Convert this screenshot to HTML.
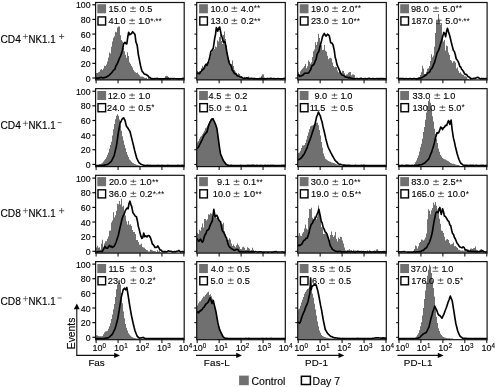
<!DOCTYPE html>
<html><head><meta charset="utf-8"><title>Figure</title>
<style>html,body{margin:0;padding:0;background:#fff}body{width:495px;height:387px;position:relative;overflow:hidden;font-family:"Liberation Sans",sans-serif}</style></head>
<body>
<svg width="495" height="387" viewBox="0 0 495 387" style="position:absolute;left:0;top:0;will-change:transform" font-family="Liberation Sans, sans-serif" fill="#000"><style>text{stroke:#000;stroke-width:0.13px;paint-order:stroke}</style>
<rect width="495" height="387" fill="#fff"/>
<defs>
<clipPath id="c00"><rect x="95.6" y="2.5" width="88.6" height="78"/></clipPath>
<clipPath id="c01"><rect x="196.7" y="2.5" width="88.6" height="78"/></clipPath>
<clipPath id="c02"><rect x="297.7" y="2.5" width="88.6" height="78"/></clipPath>
<clipPath id="c03"><rect x="398.5" y="2.5" width="88.6" height="78"/></clipPath>
<clipPath id="c10"><rect x="95.6" y="88.65" width="88.6" height="78.55"/></clipPath>
<clipPath id="c11"><rect x="196.7" y="88.65" width="88.6" height="78.55"/></clipPath>
<clipPath id="c12"><rect x="297.7" y="88.65" width="88.6" height="78.55"/></clipPath>
<clipPath id="c13"><rect x="398.5" y="88.65" width="88.6" height="78.55"/></clipPath>
<clipPath id="c20"><rect x="95.6" y="175.3" width="88.6" height="78.4"/></clipPath>
<clipPath id="c21"><rect x="196.7" y="175.3" width="88.6" height="78.4"/></clipPath>
<clipPath id="c22"><rect x="297.7" y="175.3" width="88.6" height="78.4"/></clipPath>
<clipPath id="c23"><rect x="398.5" y="175.3" width="88.6" height="78.4"/></clipPath>
<clipPath id="c30"><rect x="95.6" y="261.6" width="88.6" height="78.7"/></clipPath>
<clipPath id="c31"><rect x="196.7" y="261.6" width="88.6" height="78.7"/></clipPath>
<clipPath id="c32"><rect x="297.7" y="261.6" width="88.6" height="78.7"/></clipPath>
<clipPath id="c33"><rect x="398.5" y="261.6" width="88.6" height="78.7"/></clipPath>
</defs>
<path d="M95 79.9 V73.36 H96 V72.92 H97 V72.88 H98 V72.24 H99 V71.71 H100 V69.86 H101 V68.92 H102 V69.89 H103 V68.62 H104 V65.85 H105 V66.03 H106 V64.6 H107 V61.51 H108 V57.44 H109 V52.57 H110 V53.5 H111 V46.7 H112 V41.39 H113 V37.75 H114 V36.28 H115 V31.81 H116 V32.3 H117 V27.41 H118 V26.52 H119 V26.47 H120 V35.22 H121 V40.03 H122 V41.38 H123 V47.92 H124 V51.31 H125 V54.83 H126 V57.65 H127 V52.24 H128 V55.98 H129 V62.21 H130 V63.67 H131 V65.65 H132 V67.57 H133 V70.04 H134 V71.52 H135 V72.15 H136 V73.01 H137 V72.55 H138 V74.17 H139 V75.34 H140 V76.51 H141 V76.52 H142 V76.4 H143 V76.9 H144 V77.85 H145 V78.1 H146 V77.84 H147 V78.96 H148 V78.01 H149 V78.2 H150 V78.14 H151 V79 H152 V77.66 H153 V78.67 H154 V78.84 H155 V78.39 H156 V78.84 H157 V78.35 H158 V78.77 H159 V78.74 H160 V78.84 H161 V79.27 H162 V79.27 H163 V78.37 H164 V77.98 H165 V76.26 H166 V75.68 H167 V76.11 H168 V77 H169 V79.08 H170 V78.64 H171 V79.9Z" fill="#707070" clip-path="url(#c00)"/>
<path d="M95 78.12 L96.01 77.84 L97.02 78.28 L98.03 77.96 L99.04 78.09 L100.05 77.57 L101.06 77.37 L102.07 77.82 L103.08 77.89 L104.09 77.67 L105 77.4 L105.91 77.19 L106.82 76.89 L107.73 76.13 L108.64 75.76 L109.55 74.88 L110.45 73.78 L111.36 73.07 L112.27 72.01 L113.18 70.58 L114.09 69.93 L115 69.08 L115.91 65.86 L116.82 64.69 L117.73 62.64 L118.64 60.38 L119.55 57.86 L120.45 56.52 L121.36 53.74 L122.27 50.9 L123.73 43.65 L125 42.27 L125.91 43.61 L126.82 43.87 L127.73 37.26 L128.64 32.36 L129.55 34.65 L130.45 34.18 L131.55 33.48 L132.64 31.73 L133.82 32.96 L135 34.49 L135.91 41.8 L137.18 45.39 L138.36 54.62 L139.55 60.54 L140.45 65.26 L141.36 69.1 L142.27 71.72 L143.18 72.46 L144.09 73.93 L145 74.34 L145.91 74.38 L146.82 75.08 L147.73 75.58 L148.64 76.84 L149.55 77.51 L150.45 77.67 L151.36 78.85 L152.35 78.85 L153.34 78.85 L154.33 78.66 L155.32 78.82 L156.31 78.48 L157.3 78.38 L158.29 78.85 L159.28 78.85 L160.27 78.8 L161.26 78.85 L162.25 78.73 L163.24 78.85 L164.22 78.85 L165.21 78.54 L166.2 78.58 L167.19 78.61 L168.18 78.57 L169.17 78.85 L170.16 78.58 L171.15 78.71 L172.14 78.48 L173.13 78.85 L174.12 78.66 L175.11 78.75 L176.1 78.85 L177.09 78.85 L178.07 78.72 L179.06 78.85 L180.05 78.78 L181.04 78.81 L182.03 78.8 L183.02 78.38 L184.01 78.73 L185 78.52" fill="none" stroke="#000" stroke-width="1.65" stroke-linejoin="round" clip-path="url(#c00)"/>
<rect x="95.6" y="2.5" width="88.6" height="77.4" fill="none" stroke="#111" stroke-width="1.2"/>
<line x1="92.4" y1="78" x2="95.6" y2="78" stroke="#000" stroke-width="1.15"/>
<text x="90.6" y="81.6" font-size="8.8" text-anchor="end">0</text>
<line x1="92.4" y1="63.36" x2="95.6" y2="63.36" stroke="#000" stroke-width="1.15"/>
<text x="90.6" y="66.96" font-size="8.8" text-anchor="end">20</text>
<line x1="92.4" y1="48.72" x2="95.6" y2="48.72" stroke="#000" stroke-width="1.15"/>
<text x="90.6" y="52.32" font-size="8.8" text-anchor="end">40</text>
<line x1="92.4" y1="34.08" x2="95.6" y2="34.08" stroke="#000" stroke-width="1.15"/>
<text x="90.6" y="37.68" font-size="8.8" text-anchor="end">60</text>
<line x1="92.4" y1="19.44" x2="95.6" y2="19.44" stroke="#000" stroke-width="1.15"/>
<text x="90.6" y="23.04" font-size="8.8" text-anchor="end">80</text>
<line x1="92.4" y1="4.8" x2="95.6" y2="4.8" stroke="#000" stroke-width="1.15"/>
<text x="90.6" y="8.4" font-size="8.8" text-anchor="end">100</text>
<line x1="96.1" y1="79.9" x2="96.1" y2="83.3" stroke="#000" stroke-width="1.0"/>
<line x1="118.05" y1="79.9" x2="118.05" y2="83.3" stroke="#000" stroke-width="1.0"/>
<line x1="140" y1="79.9" x2="140" y2="83.3" stroke="#000" stroke-width="1.0"/>
<line x1="161.95" y1="79.9" x2="161.95" y2="83.3" stroke="#000" stroke-width="1.0"/>
<line x1="183.9" y1="79.9" x2="183.9" y2="83.3" stroke="#000" stroke-width="1.0"/>
<rect x="97.3" y="4.2" width="8.8" height="9.1" fill="#707070"/>
<rect x="98" y="16.9" width="7.6" height="8.1" fill="#fff" stroke="#000" stroke-width="1.4"/>
<text x="108.55" y="11.9" font-size="9.2">15.0</text>
<path d="M130.1 8.05H135.9M133 6.3V9.8M130.1 11.45H135.9" stroke="#222" stroke-width="0.7" fill="none"/>
<text x="139.52" y="11.9" font-size="9.2">0.5</text>
<text x="108.52" y="24.1" font-size="9.2">41<tspan dx="-0.9">.</tspan>0</text>
<path d="M129.19 20.25H134.99M132.09 18.5V22M129.19 23.65H134.99" stroke="#222" stroke-width="0.7" fill="none"/>
<text x="138.18" y="24.1" font-size="9.2">1<tspan dx="-0.9">.</tspan>0<tspan font-size="8.4" stroke="none" dx="0.2" dy="-0.6">*</tspan><tspan dy="-2.2" font-size="6.5" stroke="none">,</tspan><tspan dy="2.2" font-size="8.4" stroke="none">**</tspan></text>
<path d="M196 79.9 V70.29 H197 V71.12 H198 V71.93 H199 V71.35 H200 V71.42 H201 V68.34 H202 V65.72 H203 V68.14 H204 V65.95 H205 V65.26 H206 V63.2 H207 V62.04 H208 V60.41 H209 V61.64 H210 V57.62 H211 V53.17 H212 V50.37 H213 V49.65 H214 V49.09 H215 V46.62 H216 V47.16 H217 V40.49 H218 V41.61 H219 V36.88 H220 V34.13 H221 V40.92 H222 V44.12 H223 V34.99 H224 V31.45 H225 V38.91 H226 V45.29 H227 V51.99 H228 V58.4 H229 V60.36 H230 V65.7 H231 V63.88 H232 V60.43 H233 V66.11 H234 V69.63 H235 V71.59 H236 V72.85 H237 V74.28 H238 V73.16 H239 V74.03 H240 V75.78 H241 V76.27 H242 V76.88 H243 V77.88 H244 V76.72 H245 V77.61 H246 V77.31 H247 V77.18 H248 V76.56 H249 V77.83 H250 V78.49 H251 V79.59 H252 V78.67 H253 V78.76 H254 V78.47 H255 V78.68 H256 V79.52 H257 V79.37 H258 V79.04 H259 V77.53 H260 V77.56 H261 V75.86 H262 V74.36 H263 V74.48 H264 V77.58 H265 V78.06 H266 V79.3 H267 V79.9Z" fill="#707070" clip-path="url(#c01)"/>
<path d="M196 73.92 L196.91 73.4 L197.82 73.35 L198.73 73.42 L199.64 73.64 L200.55 71.99 L201.45 71.18 L202.36 69.66 L203.27 69.38 L204.18 67.95 L205.09 65.61 L206 64.35 L206.91 65.33 L207.82 63.26 L208.73 61.06 L209.64 57.79 L210.91 51.49 L212.09 49.97 L213.27 48.25 L214.73 38.19 L215.55 34.16 L216.36 27.56 L217.82 31.12 L218.73 28.29 L219.64 27.01 L221.09 34.04 L222.18 37.62 L223.27 42.16 L224.18 41.47 L225.09 42.15 L226 46.97 L226.91 52.67 L227.82 56.89 L228.73 61.51 L229.64 63.97 L230.55 64.97 L231.45 66.99 L232.36 70.43 L233.27 71.35 L234.18 73.1 L235.09 73.88 L236 74.04 L236.91 75.45 L237.82 75.96 L238.73 76.1 L239.64 76.66 L240.55 77.19 L241.45 76.98 L242.36 77.8 L243.27 78.24 L244.18 78.4 L245.09 78.24 L246 78.13 L246.91 77.77 L247.82 78.32 L248.73 78.4 L249.64 78.67 L250.55 78.56 L251.56 78.39 L252.57 78.48 L253.58 78.67 L254.6 78.45 L255.61 78.85 L256.62 78.83 L257.64 78.85 L258.65 78.85 L259.66 78.85 L260.68 78.77 L261.69 78.37 L262.7 78.85 L263.71 78.85 L264.73 78.78 L265.74 78.81 L266.75 78.85 L267.77 78.42 L268.78 78.85 L269.79 78.58 L270.81 78.43 L271.82 78.59 L272.83 78.85 L273.84 78.54 L274.86 78.85 L275.87 78.85 L276.88 78.78 L277.9 78.68 L278.91 78.76 L279.92 78.85 L280.94 78.85 L281.95 78.85 L282.96 78.85 L283.97 78.43 L284.99 78.49 L286 78.58" fill="none" stroke="#000" stroke-width="1.65" stroke-linejoin="round" clip-path="url(#c01)"/>
<rect x="196.7" y="2.5" width="88.6" height="77.4" fill="none" stroke="#111" stroke-width="1.2"/>
<line x1="194.3" y1="78" x2="196.7" y2="78" stroke="#000" stroke-width="1.0"/>
<line x1="194.3" y1="63.36" x2="196.7" y2="63.36" stroke="#000" stroke-width="1.0"/>
<line x1="194.3" y1="48.72" x2="196.7" y2="48.72" stroke="#000" stroke-width="1.0"/>
<line x1="194.3" y1="34.08" x2="196.7" y2="34.08" stroke="#000" stroke-width="1.0"/>
<line x1="194.3" y1="19.44" x2="196.7" y2="19.44" stroke="#000" stroke-width="1.0"/>
<line x1="194.3" y1="4.8" x2="196.7" y2="4.8" stroke="#000" stroke-width="1.0"/>
<line x1="197.2" y1="79.9" x2="197.2" y2="83.3" stroke="#000" stroke-width="1.0"/>
<line x1="219.15" y1="79.9" x2="219.15" y2="83.3" stroke="#000" stroke-width="1.0"/>
<line x1="241.1" y1="79.9" x2="241.1" y2="83.3" stroke="#000" stroke-width="1.0"/>
<line x1="263.05" y1="79.9" x2="263.05" y2="83.3" stroke="#000" stroke-width="1.0"/>
<line x1="285" y1="79.9" x2="285" y2="83.3" stroke="#000" stroke-width="1.0"/>
<rect x="199.1" y="4.2" width="8.8" height="9.1" fill="#707070"/>
<rect x="199.8" y="16.9" width="7.6" height="8.1" fill="#fff" stroke="#000" stroke-width="1.4"/>
<text x="210.45" y="11.9" font-size="9.2">10.0</text>
<path d="M231.46 8.05H237.26M234.36 6.3V9.8M231.46 11.45H237.26" stroke="#222" stroke-width="0.7" fill="none"/>
<text x="240.79" y="11.9" font-size="9.2">4.0<tspan font-size="8.4" stroke="none" dx="0.2" dy="-0.6">**</tspan></text>
<text x="210.45" y="24.1" font-size="9.2">13.0</text>
<path d="M231.46 20.25H237.26M234.36 18.5V22M231.46 23.65H237.26" stroke="#222" stroke-width="0.7" fill="none"/>
<text x="241.06" y="24.1" font-size="9.2">0.2<tspan font-size="8.4" stroke="none" dx="0.2" dy="-0.6">**</tspan></text>
<path d="M297 79.9 V74.3 H298 V72.27 H299 V73.88 H300 V71.37 H301 V69.74 H302 V68.84 H303 V67.48 H304 V65.94 H305 V63.95 H306 V68.26 H307 V66.13 H308 V60.39 H309 V61.78 H310 V63.86 H311 V62.2 H312 V57.1 H313 V51.23 H314 V49.55 H315 V42.26 H316 V44.93 H317 V41.81 H318 V33.84 H319 V37.9 H320 V43.72 H321 V45.35 H322 V50.07 H323 V49.63 H324 V45.07 H325 V50.66 H326 V51.68 H327 V55.64 H328 V59.23 H329 V58.35 H330 V57.83 H331 V58.53 H332 V62.52 H333 V65.98 H334 V67.13 H335 V66.73 H336 V66.88 H337 V70.45 H338 V72.18 H339 V71.24 H340 V73.58 H341 V72.64 H342 V70.85 H343 V70.97 H344 V73.37 H345 V75.4 H346 V74.44 H347 V74.28 H348 V72.86 H349 V72.06 H350 V71.96 H351 V75.2 H352 V74.5 H353 V74.59 H354 V75.04 H355 V78.92 H356 V79.9Z" fill="#707070" clip-path="url(#c02)"/>
<path d="M297 74.4 L297.91 74.54 L298.82 75.26 L299.73 76.48 L300.64 76.02 L301.55 75.74 L302.45 75.21 L303.36 74.83 L304.27 73.32 L305.18 73.3 L306.09 73.17 L307 73.28 L307.91 73.25 L308.82 72.61 L309.73 71.1 L310.64 69.8 L311.55 66.72 L312.45 65.16 L313.36 65.06 L314.27 63.72 L315.18 60.9 L316.09 59.38 L317 54.61 L317.91 52.74 L318.82 51.42 L319.73 47.46 L320.64 43.92 L321.55 40.66 L322.45 36.83 L323.36 34.86 L324.27 33.49 L325.18 35.13 L326.09 36.09 L327.55 34.19 L328.45 34.86 L329.36 35.98 L330.64 42.72 L331.82 43.1 L333 44.76 L334.27 50.4 L335.18 57.26 L336.09 60.28 L337 64.65 L337.91 66.71 L338.82 68.8 L339.73 70.85 L340.64 73.36 L341.55 74.54 L342.45 75.29 L343.36 75.3 L344.27 75.97 L345.18 76.76 L346.09 77.14 L347 77.26 L347.91 77.43 L348.82 77.92 L349.73 77.52 L350.64 77.92 L351.55 78.2 L352.45 78.77 L353.36 78.63 L354.27 78.85 L355.18 78.76 L356.18 78.56 L357.17 78.57 L358.16 78.85 L359.16 78.85 L360.15 78.62 L361.15 78.39 L362.14 78.78 L363.14 78.85 L364.13 78.72 L365.12 78.58 L366.12 78.85 L367.11 78.85 L368.11 78.56 L369.1 78.4 L370.1 78.65 L371.09 78.72 L372.09 78.85 L373.08 78.53 L374.07 78.85 L375.07 78.85 L376.06 78.79 L377.06 78.54 L378.05 78.85 L379.05 78.63 L380.04 78.85 L381.03 78.56 L382.03 78.55 L383.02 78.85 L384.02 78.61 L385.01 78.85 L386.01 78.78 L387 78.52" fill="none" stroke="#000" stroke-width="1.65" stroke-linejoin="round" clip-path="url(#c02)"/>
<rect x="297.7" y="2.5" width="88.6" height="77.4" fill="none" stroke="#111" stroke-width="1.2"/>
<line x1="295.3" y1="78" x2="297.7" y2="78" stroke="#000" stroke-width="1.0"/>
<line x1="295.3" y1="63.36" x2="297.7" y2="63.36" stroke="#000" stroke-width="1.0"/>
<line x1="295.3" y1="48.72" x2="297.7" y2="48.72" stroke="#000" stroke-width="1.0"/>
<line x1="295.3" y1="34.08" x2="297.7" y2="34.08" stroke="#000" stroke-width="1.0"/>
<line x1="295.3" y1="19.44" x2="297.7" y2="19.44" stroke="#000" stroke-width="1.0"/>
<line x1="295.3" y1="4.8" x2="297.7" y2="4.8" stroke="#000" stroke-width="1.0"/>
<line x1="298.2" y1="79.9" x2="298.2" y2="83.3" stroke="#000" stroke-width="1.0"/>
<line x1="320.15" y1="79.9" x2="320.15" y2="83.3" stroke="#000" stroke-width="1.0"/>
<line x1="342.1" y1="79.9" x2="342.1" y2="83.3" stroke="#000" stroke-width="1.0"/>
<line x1="364.05" y1="79.9" x2="364.05" y2="83.3" stroke="#000" stroke-width="1.0"/>
<line x1="386" y1="79.9" x2="386" y2="83.3" stroke="#000" stroke-width="1.0"/>
<rect x="299.7" y="4.2" width="8.8" height="9.1" fill="#707070"/>
<rect x="300.4" y="16.9" width="7.6" height="8.1" fill="#fff" stroke="#000" stroke-width="1.4"/>
<text x="310.91" y="11.9" font-size="9.2">19.0</text>
<path d="M332.1 8.05H337.9M335 6.3V9.8M332.1 11.45H337.9" stroke="#222" stroke-width="0.7" fill="none"/>
<text x="341.63" y="11.9" font-size="9.2">2.0<tspan font-size="8.4" stroke="none" dx="0.2" dy="-0.6">**</tspan></text>
<text x="310.9" y="24.1" font-size="9.2">23.0</text>
<path d="M332.1 20.25H337.9M335 18.5V22M332.1 23.65H337.9" stroke="#222" stroke-width="0.7" fill="none"/>
<text x="341.45" y="24.1" font-size="9.2">1<tspan dx="-0.9">.</tspan>0<tspan font-size="8.4" stroke="none" dx="0.2" dy="-0.6">**</tspan></text>
<path d="M415 79.9 V78.69 H416 V78.38 H417 V77.69 H418 V77.8 H419 V76.99 H420 V74.96 H421 V72.13 H422 V65.85 H423 V68.51 H424 V74 H425 V73.79 H426 V71.82 H427 V68.82 H428 V68.27 H429 V65.96 H430 V60.98 H431 V54.17 H432 V57.32 H433 V55.41 H434 V46.65 H435 V32.95 H436 V20.85 H437 V20.86 H438 V14.1 H439 V20.79 H440 V24.8 H441 V23.67 H442 V36.7 H443 V41.57 H444 V40.09 H445 V50.55 H446 V45.4 H447 V46.29 H448 V52.5 H449 V55.04 H450 V60.12 H451 V60.81 H452 V62.77 H453 V61.34 H454 V61.19 H455 V62.5 H456 V68.5 H457 V67.44 H458 V70.64 H459 V73.01 H460 V72.34 H461 V73.87 H462 V74.72 H463 V74.83 H464 V76.22 H465 V76.34 H466 V76.64 H467 V78.8 H468 V79.26 H469 V79.9Z" fill="#707070" clip-path="url(#c03)"/>
<path d="M398 78.68 L399.01 78.85 L400.02 78.53 L401.03 78.57 L402.04 78.57 L403.05 78.49 L404.06 78.85 L405.07 78.85 L406.08 78.64 L407.09 78.7 L408.1 78.85 L409.11 78.79 L410.12 78.56 L411.13 78.85 L412.14 78.85 L413.15 78.85 L414.16 78.45 L415.17 78.76 L416.18 78.85 L417.09 78.85 L418 78.85 L418.91 78.17 L419.82 78.31 L420.73 78.09 L421.64 77.46 L422.55 77.55 L423.45 76.51 L424.36 76.31 L425.27 75.09 L426.18 75.09 L427.09 73.99 L428 72.72 L428.91 72.46 L429.82 71.75 L430.73 69.4 L431.64 68.71 L432.55 67.26 L433.45 64.92 L434.36 62.93 L435.27 60.05 L436.18 56.47 L437.09 52.91 L438.27 50.83 L439.45 47.81 L440.55 43.65 L441.64 40.31 L442.73 36.32 L443.82 32.44 L444.73 33.59 L445.64 36.73 L446.55 31.38 L447.45 28.27 L448.36 31.57 L449.27 34.11 L450.18 37.42 L451.09 41.54 L452.27 46.12 L453.45 50.5 L454.36 51.47 L455.27 54.48 L456.18 58.78 L457.09 59.82 L458 61.34 L458.91 63.25 L459.82 66.46 L460.73 66.97 L461.64 69.26 L462.55 70.12 L463.45 71.44 L464.36 73.29 L465.27 74.34 L466.18 74.43 L467.09 75.16 L468 76.66 L468.91 76.92 L469.82 77.55 L470.73 78.85 L471.77 78.56 L472.81 78.74 L473.84 78.23 L474.88 78.5 L475.92 77.97 L476.96 77.54 L478 77.24 L478.91 78.1 L479.82 78.54 L480.73 78.85 L481.77 78.44 L482.81 78.85 L483.84 78.67 L484.88 78.79 L485.92 78.49 L486.96 78.6 L488 78.8" fill="none" stroke="#000" stroke-width="1.65" stroke-linejoin="round" clip-path="url(#c03)"/>
<rect x="398.5" y="2.5" width="88.6" height="77.4" fill="none" stroke="#111" stroke-width="1.2"/>
<line x1="396.1" y1="78" x2="398.5" y2="78" stroke="#000" stroke-width="1.0"/>
<line x1="396.1" y1="63.36" x2="398.5" y2="63.36" stroke="#000" stroke-width="1.0"/>
<line x1="396.1" y1="48.72" x2="398.5" y2="48.72" stroke="#000" stroke-width="1.0"/>
<line x1="396.1" y1="34.08" x2="398.5" y2="34.08" stroke="#000" stroke-width="1.0"/>
<line x1="396.1" y1="19.44" x2="398.5" y2="19.44" stroke="#000" stroke-width="1.0"/>
<line x1="396.1" y1="4.8" x2="398.5" y2="4.8" stroke="#000" stroke-width="1.0"/>
<line x1="399" y1="79.9" x2="399" y2="83.3" stroke="#000" stroke-width="1.0"/>
<line x1="420.95" y1="79.9" x2="420.95" y2="83.3" stroke="#000" stroke-width="1.0"/>
<line x1="442.9" y1="79.9" x2="442.9" y2="83.3" stroke="#000" stroke-width="1.0"/>
<line x1="464.85" y1="79.9" x2="464.85" y2="83.3" stroke="#000" stroke-width="1.0"/>
<line x1="486.8" y1="79.9" x2="486.8" y2="83.3" stroke="#000" stroke-width="1.0"/>
<rect x="400.2" y="4.2" width="8.8" height="9.1" fill="#707070"/>
<rect x="400.9" y="16.9" width="7.6" height="8.1" fill="#fff" stroke="#000" stroke-width="1.4"/>
<text x="410.88" y="11.9" font-size="9.2">98.0</text>
<path d="M433.1 8.05H438.9M436 6.3V9.8M433.1 11.45H438.9" stroke="#222" stroke-width="0.7" fill="none"/>
<text x="442.58" y="11.9" font-size="9.2">5.0<tspan font-size="8.4" stroke="none" dx="0.2" dy="-0.6">**</tspan></text>
<text x="411.18" y="24.1" font-size="9.2">187<tspan dx="-1.3">.</tspan>0</text>
<path d="M436.01 20.25H441.81M438.91 18.5V22M436.01 23.65H441.81" stroke="#222" stroke-width="0.7" fill="none"/>
<text x="445.31" y="24.1" font-size="9.2">5.0<tspan font-size="8.4" stroke="none" dx="0.2" dy="-0.6">*</tspan><tspan dy="-2.2" font-size="6.5" stroke="none">,</tspan><tspan dy="2.2" font-size="8.4" stroke="none">**</tspan></text>
<path d="M95 166.6 V165.43 H96 V165.25 H97 V165.14 H98 V164.95 H99 V164.51 H100 V163.99 H101 V163.58 H102 V162.78 H103 V161.6 H104 V160.28 H105 V159.11 H106 V157.14 H107 V154.75 H108 V152.51 H109 V148.83 H110 V145.12 H111 V141.68 H112 V135.49 H113 V129.23 H114 V123.95 H115 V119.21 H116 V115.66 H117 V114.3 H118 V115.7 H119 V119.6 H120 V125.57 H121 V130.8 H122 V136.18 H123 V140.38 H124 V144.65 H125 V148.29 H126 V152 H127 V154.67 H128 V157.04 H129 V159.42 H130 V160.61 H131 V161.81 H132 V162.76 H133 V163.27 H134 V163.88 H135 V164.36 H136 V164.63 H137 V165.03 H138 V165.3 H139 V165.51 H140 V166.6Z" fill="#707070" clip-path="url(#c10)"/>
<path d="M95 165.45 L96.04 165.46 L97.08 165.48 L98.12 165.46 L99.16 165.43 L100.19 165.45 L101.23 165.45 L102.27 165.53 L103.36 165.28 L104.45 165.09 L105.55 164.79 L106.64 164.64 L107.73 164.35 L108.64 163.62 L109.55 162.86 L110.45 162.05 L111.36 161.36 L112.27 159.49 L113.18 157.68 L114.09 155.93 L115.27 150.74 L116.45 146.01 L117.36 139.53 L118.27 133.08 L119.18 128.24 L120.09 123.02 L121 121.5 L121.91 119.51 L122.73 118.52 L123.55 117.77 L125 120.37 L126.27 125.72 L127.18 127.31 L128.09 128.39 L129 130.06 L129.91 131.2 L131.09 135.9 L132.27 140.58 L133.45 145.42 L134.64 150.44 L135.73 154.44 L136.82 158.48 L137.91 160.59 L139 162.71 L140.18 163.68 L141.36 164.56 L142.27 164.8 L143.18 165.07 L144.09 165.22 L145 165.45 L146 165.5 L147 165.43 L148 165.43 L149 165.47 L150 165.44 L151 165.47 L152 165.45 L153 165.49 L154 165.49 L155 165.45 L156 165.49 L157 165.48 L158 165.44 L159 165.53 L160 165.46 L161 165.45 L162 165.44 L163 165.5 L164 165.52 L165 165.51 L166 165.47 L167 165.46 L168 165.43 L169 165.5 L170 165.49 L171 165.47 L172 165.5 L173 165.48 L174 165.53 L175 165.51 L176 165.46 L177 165.52 L178 165.43 L179 165.49 L180 165.47 L181 165.45 L182 165.44 L183 165.51 L184 165.43 L185 165.49" fill="none" stroke="#000" stroke-width="1.65" stroke-linejoin="round" clip-path="url(#c10)"/>
<rect x="95.6" y="88.65" width="88.6" height="77.95" fill="none" stroke="#111" stroke-width="1.2"/>
<line x1="92.4" y1="164.4" x2="95.6" y2="164.4" stroke="#000" stroke-width="1.15"/>
<text x="90.6" y="168" font-size="8.8" text-anchor="end">0</text>
<line x1="92.4" y1="149.76" x2="95.6" y2="149.76" stroke="#000" stroke-width="1.15"/>
<text x="90.6" y="153.36" font-size="8.8" text-anchor="end">20</text>
<line x1="92.4" y1="135.12" x2="95.6" y2="135.12" stroke="#000" stroke-width="1.15"/>
<text x="90.6" y="138.72" font-size="8.8" text-anchor="end">40</text>
<line x1="92.4" y1="120.48" x2="95.6" y2="120.48" stroke="#000" stroke-width="1.15"/>
<text x="90.6" y="124.08" font-size="8.8" text-anchor="end">60</text>
<line x1="92.4" y1="105.84" x2="95.6" y2="105.84" stroke="#000" stroke-width="1.15"/>
<text x="90.6" y="109.44" font-size="8.8" text-anchor="end">80</text>
<line x1="92.4" y1="91.2" x2="95.6" y2="91.2" stroke="#000" stroke-width="1.15"/>
<text x="90.6" y="94.8" font-size="8.8" text-anchor="end">100</text>
<line x1="96.1" y1="166.6" x2="96.1" y2="170" stroke="#000" stroke-width="1.0"/>
<line x1="118.05" y1="166.6" x2="118.05" y2="170" stroke="#000" stroke-width="1.0"/>
<line x1="140" y1="166.6" x2="140" y2="170" stroke="#000" stroke-width="1.0"/>
<line x1="161.95" y1="166.6" x2="161.95" y2="170" stroke="#000" stroke-width="1.0"/>
<line x1="183.9" y1="166.6" x2="183.9" y2="170" stroke="#000" stroke-width="1.0"/>
<rect x="97.3" y="90.95" width="8.8" height="9.1" fill="#707070"/>
<rect x="98" y="103.65" width="7.6" height="8.1" fill="#fff" stroke="#000" stroke-width="1.4"/>
<text x="107.64" y="98.9" font-size="9.2">12.0</text>
<path d="M129.19 95.05H134.99M132.09 93.3V96.8M129.19 98.45H134.99" stroke="#222" stroke-width="0.7" fill="none"/>
<text x="138.55" y="98.9" font-size="9.2">1<tspan dx="-0.9">.</tspan>0</text>
<text x="107.08" y="111" font-size="9.2">24.0</text>
<path d="M129.19 107.15H134.99M132.09 105.4V108.9M129.19 110.55H134.99" stroke="#222" stroke-width="0.7" fill="none"/>
<text x="138.25" y="111" font-size="9.2">0.5<tspan font-size="8.4" stroke="none" dx="0.2" dy="-0.6">*</tspan></text>
<path d="M196 166.6 V144.42 H197 V142.59 H198 V140.96 H199 V138.65 H200 V136.85 H201 V135.73 H202 V134.24 H203 V132.43 H204 V130.72 H205 V128.34 H206 V127.61 H207 V125.42 H208 V123.79 H209 V121.26 H210 V119.24 H211 V118.07 H212 V117.88 H213 V118.17 H214 V121.42 H215 V123.91 H216 V127.79 H217 V133.58 H218 V140.02 H219 V147.43 H220 V153.59 H221 V156.04 H222 V158.39 H223 V160.45 H224 V162.08 H225 V163.17 H226 V164.37 H227 V164.75 H228 V165.5 H229 V166.6Z" fill="#707070" clip-path="url(#c11)"/>
<path d="M196 149.27 L196.91 148.39 L197.82 147.87 L198.73 146.68 L199.64 144.75 L200.55 142.86 L201.45 141.03 L202.36 139.29 L203.27 137.14 L204.18 135.05 L205.09 134.17 L206 132.86 L206.91 132.26 L208 128.04 L209.09 124.22 L210 122.4 L210.91 120.63 L211.91 119.22 L212.91 118.79 L213.82 120.64 L214.73 122.48 L215.82 125.16 L216.91 128.4 L217.82 135.16 L218.73 141.94 L219.64 148.28 L220.55 154.14 L221.45 156.19 L222.36 158.36 L223.27 160.42 L224.18 161.68 L225.09 162.98 L226 164.32 L226.91 164.8 L227.82 165.07 L228.73 165.45 L229.73 165.47 L230.74 165.41 L231.74 165.44 L232.75 165.45 L233.75 165.52 L234.76 165.46 L235.76 165.45 L236.77 165.55 L237.77 165.48 L238.78 165.54 L239.78 165.5 L240.78 165.41 L241.79 165.47 L242.79 165.47 L243.8 165.52 L244.8 165.46 L245.81 165.51 L246.81 165.49 L247.82 165.44 L248.82 165.54 L249.83 165.42 L250.83 165.53 L251.84 165.43 L252.84 165.4 L253.85 165.44 L254.85 165.52 L255.86 165.55 L256.86 165.4 L257.87 165.48 L258.87 165.48 L259.88 165.53 L260.88 165.43 L261.89 165.48 L262.89 165.46 L263.89 165.53 L264.9 165.44 L265.9 165.55 L266.91 165.45 L267.91 165.44 L268.92 165.51 L269.92 165.48 L270.93 165.42 L271.93 165.5 L272.94 165.42 L273.94 165.53 L274.95 165.51 L275.95 165.53 L276.96 165.5 L277.96 165.46 L278.97 165.47 L279.97 165.47 L280.98 165.54 L281.98 165.42 L282.99 165.54 L283.99 165.41 L285 165.44 L286 165.45" fill="none" stroke="#000" stroke-width="1.65" stroke-linejoin="round" clip-path="url(#c11)"/>
<rect x="196.7" y="88.65" width="88.6" height="77.95" fill="none" stroke="#111" stroke-width="1.2"/>
<line x1="194.3" y1="164.4" x2="196.7" y2="164.4" stroke="#000" stroke-width="1.0"/>
<line x1="194.3" y1="149.76" x2="196.7" y2="149.76" stroke="#000" stroke-width="1.0"/>
<line x1="194.3" y1="135.12" x2="196.7" y2="135.12" stroke="#000" stroke-width="1.0"/>
<line x1="194.3" y1="120.48" x2="196.7" y2="120.48" stroke="#000" stroke-width="1.0"/>
<line x1="194.3" y1="105.84" x2="196.7" y2="105.84" stroke="#000" stroke-width="1.0"/>
<line x1="194.3" y1="91.2" x2="196.7" y2="91.2" stroke="#000" stroke-width="1.0"/>
<line x1="197.2" y1="166.6" x2="197.2" y2="170" stroke="#000" stroke-width="1.0"/>
<line x1="219.15" y1="166.6" x2="219.15" y2="170" stroke="#000" stroke-width="1.0"/>
<line x1="241.1" y1="166.6" x2="241.1" y2="170" stroke="#000" stroke-width="1.0"/>
<line x1="263.05" y1="166.6" x2="263.05" y2="170" stroke="#000" stroke-width="1.0"/>
<line x1="285" y1="166.6" x2="285" y2="170" stroke="#000" stroke-width="1.0"/>
<rect x="199.1" y="90.95" width="8.8" height="9.1" fill="#707070"/>
<rect x="199.8" y="103.65" width="7.6" height="8.1" fill="#fff" stroke="#000" stroke-width="1.4"/>
<text x="208.61" y="98.9" font-size="9.2">4.5</text>
<path d="M225.1 95.05H230.9M228 93.3V96.8M225.1 98.45H230.9" stroke="#222" stroke-width="0.7" fill="none"/>
<text x="234.7" y="98.9" font-size="9.2">0.2</text>
<text x="208.76" y="111" font-size="9.2">5.0</text>
<path d="M225.1 107.15H230.9M228 105.4V108.9M225.1 110.55H230.9" stroke="#222" stroke-width="0.7" fill="none"/>
<text x="234.7" y="111" font-size="9.2">0.1</text>
<path d="M297 166.6 V153.86 H298 V152.9 H299 V152.38 H300 V150.63 H301 V148.08 H302 V145.47 H303 V145.41 H304 V144.88 H305 V143 H306 V139.47 H307 V135.78 H308 V132.53 H309 V129.36 H310 V126.54 H311 V125.68 H312 V125.4 H313 V124.63 H314 V124.15 H315 V124.09 H316 V122.82 H317 V122.7 H318 V125.37 H319 V130.12 H320 V135.6 H321 V142.08 H322 V147.79 H323 V153.6 H324 V156.3 H325 V158.74 H326 V159.58 H327 V160.3 H328 V160.88 H329 V161.57 H330 V161.86 H331 V162.5 H332 V162.65 H333 V163.06 H334 V163.35 H335 V163.79 H336 V164.13 H337 V164.45 H338 V164.69 H339 V165.01 H340 V165.47 H341 V166.6Z" fill="#707070" clip-path="url(#c12)"/>
<path d="M297 160.5 L297.91 159.86 L298.82 159.52 L299.73 159.1 L300.64 158.54 L301.55 157.43 L302.45 156.45 L303.36 155.01 L304.27 154.04 L305.18 151.77 L306.09 149.91 L307 147.87 L307.91 145.25 L308.82 142.59 L309.73 140.44 L310.64 137.69 L311.55 135.07 L312.45 132.22 L313.64 128.66 L314.82 125.13 L315.73 120.86 L316.64 116.7 L317.55 114.75 L318.45 112.04 L319.36 114.14 L320.27 115.78 L321.18 119.18 L322.09 121.98 L323 126.59 L323.91 130.3 L324.82 134.22 L325.73 138.44 L326.82 142.61 L327.91 146.51 L328.82 148.54 L329.73 150.36 L330.64 152.29 L331.55 153.97 L332.45 155.77 L333.36 157.28 L334.27 158.94 L335.18 160.5 L336.09 161.31 L337 162.15 L337.91 163.18 L338.82 164.01 L339.73 164.19 L340.64 164.4 L341.55 164.73 L342.45 164.95 L343.36 165.14 L344.39 165.16 L345.41 165.22 L346.43 165.21 L347.45 165.37 L348.48 165.32 L349.5 165.41 L350.52 165.49 L351.55 165.53 L352.52 165.48 L353.48 165.45 L354.45 165.49 L355.42 165.42 L356.39 165.53 L357.36 165.46 L358.33 165.54 L359.3 165.45 L360.27 165.46 L361.24 165.44 L362.21 165.47 L363.18 165.43 L364.15 165.4 L365.12 165.52 L366.09 165.45 L367.09 165.45 L368.08 165.47 L369.08 165.5 L370.07 165.51 L371.07 165.55 L372.06 165.55 L373.06 165.52 L374.06 165.55 L375.05 165.55 L376.05 165.5 L377.04 165.55 L378.04 165.55 L379.03 165.55 L380.03 165.55 L381.03 165.55 L382.02 165.55 L383.02 165.55 L384.01 165.55 L385.01 165.55 L386 165.55 L387 165.55" fill="none" stroke="#000" stroke-width="1.65" stroke-linejoin="round" clip-path="url(#c12)"/>
<rect x="297.7" y="88.65" width="88.6" height="77.95" fill="none" stroke="#111" stroke-width="1.2"/>
<line x1="295.3" y1="164.4" x2="297.7" y2="164.4" stroke="#000" stroke-width="1.0"/>
<line x1="295.3" y1="149.76" x2="297.7" y2="149.76" stroke="#000" stroke-width="1.0"/>
<line x1="295.3" y1="135.12" x2="297.7" y2="135.12" stroke="#000" stroke-width="1.0"/>
<line x1="295.3" y1="120.48" x2="297.7" y2="120.48" stroke="#000" stroke-width="1.0"/>
<line x1="295.3" y1="105.84" x2="297.7" y2="105.84" stroke="#000" stroke-width="1.0"/>
<line x1="295.3" y1="91.2" x2="297.7" y2="91.2" stroke="#000" stroke-width="1.0"/>
<line x1="298.2" y1="166.6" x2="298.2" y2="170" stroke="#000" stroke-width="1.0"/>
<line x1="320.15" y1="166.6" x2="320.15" y2="170" stroke="#000" stroke-width="1.0"/>
<line x1="342.1" y1="166.6" x2="342.1" y2="170" stroke="#000" stroke-width="1.0"/>
<line x1="364.05" y1="166.6" x2="364.05" y2="170" stroke="#000" stroke-width="1.0"/>
<line x1="386" y1="166.6" x2="386" y2="170" stroke="#000" stroke-width="1.0"/>
<rect x="299.7" y="90.95" width="8.8" height="9.1" fill="#707070"/>
<rect x="300.4" y="103.65" width="7.6" height="8.1" fill="#fff" stroke="#000" stroke-width="1.4"/>
<text x="314.43" y="98.9" font-size="9.2">9.0</text>
<path d="M331.55 95.05H337.35M334.45 93.3V96.8M331.55 98.45H337.35" stroke="#222" stroke-width="0.7" fill="none"/>
<text x="340.55" y="98.9" font-size="9.2">1<tspan dx="-0.9">.</tspan>0</text>
<text x="309.64" y="111" font-size="9.2">1<tspan dx="-0.6">1</tspan><tspan dx="-0.9">.</tspan>5</text>
<path d="M331.55 107.15H337.35M334.45 105.4V108.9M331.55 110.55H337.35" stroke="#222" stroke-width="0.7" fill="none"/>
<text x="340.25" y="111" font-size="9.2">0.5</text>
<path d="M413 166.6 V165.45 H414 V163.91 H415 V162.31 H416 V160.51 H417 V157.93 H418 V155.38 H419 V151.47 H420 V147.31 H421 V143.79 H422 V138.66 H423 V132 H424 V126.99 H425 V119.73 H426 V112.51 H427 V105.88 H428 V100.95 H429 V98.79 H430 V102.86 H431 V108.42 H432 V116.21 H433 V121.51 H434 V128.79 H435 V133.81 H436 V138.42 H437 V142.99 H438 V148.49 H439 V151.64 H440 V155.03 H441 V156.56 H442 V158.08 H443 V158.75 H444 V159.32 H445 V159.62 H446 V160.23 H447 V160.75 H448 V161.35 H449 V162.03 H450 V162.94 H451 V163.29 H452 V163.68 H453 V163.7 H454 V164.06 H455 V164.42 H456 V164.63 H457 V165.02 H458 V165.11 H459 V165.5 H460 V166.6Z" fill="#707070" clip-path="url(#c13)"/>
<path d="M398 165.53 L399.01 165.55 L400.02 165.52 L401.03 165.55 L402.04 165.38 L403.05 165.54 L404.06 165.47 L405.07 165.55 L406.08 165.34 L407.09 165.37 L408.1 165.31 L409.11 165.55 L410.12 165.55 L411.13 165.54 L412.14 165.43 L413.15 165.55 L414.16 165.55 L415.17 165.5 L416.18 165.39 L417.27 165.23 L418.36 165.09 L419.45 164.87 L420.55 164.73 L421.64 164.63 L422.55 164.3 L423.45 163.47 L424.36 163.24 L425.27 162.54 L426.18 161.51 L427.09 160.84 L428 159.66 L428.91 158.85 L429.82 156.41 L430.73 153.93 L431.64 152.11 L432.55 149.12 L433.45 146.36 L434.36 142.85 L435.27 138.54 L436.18 135.72 L437.09 132.56 L438 133.14 L438.91 132.35 L439.82 129.72 L440.73 126.99 L441.64 127.88 L442.55 129.74 L443.45 127.59 L444.36 127.41 L445.55 125.27 L446.73 125.45 L447.64 122.6 L448.55 120.62 L449.82 124.33 L451.09 120.03 L452.18 129.81 L453.45 138.14 L454.36 141.61 L455.27 146.17 L456.18 149.7 L457.09 153.43 L458 156.47 L458.91 159.23 L459.82 161.37 L460.73 163.21 L461.64 163.77 L462.55 164.63 L463.45 165.03 L464.36 165.38 L465.27 165.38 L466.18 165.21 L467.09 165.31 L468.09 165.54 L469.08 165.55 L470.08 165.33 L471.07 165.41 L472.07 165.55 L473.06 165.36 L474.06 165.55 L475.06 165.48 L476.05 165.32 L477.05 165.43 L478.04 165.51 L479.04 165.46 L480.03 165.55 L481.03 165.35 L482.03 165.55 L483.02 165.43 L484.02 165.53 L485.01 165.53 L486.01 165.45 L487 165.44 L488 165.55" fill="none" stroke="#000" stroke-width="1.65" stroke-linejoin="round" clip-path="url(#c13)"/>
<rect x="398.5" y="88.65" width="88.6" height="77.95" fill="none" stroke="#111" stroke-width="1.2"/>
<line x1="396.1" y1="164.4" x2="398.5" y2="164.4" stroke="#000" stroke-width="1.0"/>
<line x1="396.1" y1="149.76" x2="398.5" y2="149.76" stroke="#000" stroke-width="1.0"/>
<line x1="396.1" y1="135.12" x2="398.5" y2="135.12" stroke="#000" stroke-width="1.0"/>
<line x1="396.1" y1="120.48" x2="398.5" y2="120.48" stroke="#000" stroke-width="1.0"/>
<line x1="396.1" y1="105.84" x2="398.5" y2="105.84" stroke="#000" stroke-width="1.0"/>
<line x1="396.1" y1="91.2" x2="398.5" y2="91.2" stroke="#000" stroke-width="1.0"/>
<line x1="399" y1="166.6" x2="399" y2="170" stroke="#000" stroke-width="1.0"/>
<line x1="420.95" y1="166.6" x2="420.95" y2="170" stroke="#000" stroke-width="1.0"/>
<line x1="442.9" y1="166.6" x2="442.9" y2="170" stroke="#000" stroke-width="1.0"/>
<line x1="464.85" y1="166.6" x2="464.85" y2="170" stroke="#000" stroke-width="1.0"/>
<line x1="486.8" y1="166.6" x2="486.8" y2="170" stroke="#000" stroke-width="1.0"/>
<rect x="400.2" y="90.95" width="8.8" height="9.1" fill="#707070"/>
<rect x="400.9" y="103.65" width="7.6" height="8.1" fill="#fff" stroke="#000" stroke-width="1.4"/>
<text x="412.52" y="98.9" font-size="9.2">33.0</text>
<path d="M434.37 95.05H440.17M437.27 93.3V96.8M434.37 98.45H440.17" stroke="#222" stroke-width="0.7" fill="none"/>
<text x="443.36" y="98.9" font-size="9.2">1<tspan dx="-0.9">.</tspan>0</text>
<text x="412.45" y="111" font-size="9.2">130.0</text>
<path d="M439.46 107.15H445.26M442.36 105.4V108.9M439.46 110.55H445.26" stroke="#222" stroke-width="0.7" fill="none"/>
<text x="448.58" y="111" font-size="9.2">5.0<tspan font-size="8.4" stroke="none" dx="0.2" dy="-0.6">*</tspan></text>
<path d="M95 253.1 V246.48 H96 V247.6 H97 V245.86 H98 V247.66 H99 V247.26 H100 V249.63 H101 V243.75 H102 V239.78 H103 V246.67 H104 V243.52 H105 V241.14 H106 V241.35 H107 V238.8 H108 V236.41 H109 V230.77 H110 V230.56 H111 V222.43 H112 V220.62 H113 V212.3 H114 V217.51 H115 V215.3 H116 V210.67 H117 V203.75 H118 V204.17 H119 V200.93 H120 V204.39 H121 V198.78 H122 V206.82 H123 V205.84 H124 V214.24 H125 V215.62 H126 V221.21 H127 V224.46 H128 V220.9 H129 V224.82 H130 V224.36 H131 V225.89 H132 V229.95 H133 V231.9 H134 V231.93 H135 V233.95 H136 V240.12 H137 V239.93 H138 V241.94 H139 V244.8 H140 V244.4 H141 V243.84 H142 V247.11 H143 V247.55 H144 V247.83 H145 V248.95 H146 V250.11 H147 V250.3 H148 V251.51 H149 V251.55 H150 V249.74 H151 V249.79 H152 V250.44 H153 V250.92 H154 V250.89 H155 V251.15 H156 V252.08 H157 V250.2 H158 V251.4 H159 V250.76 H160 V252.02 H161 V253.1Z" fill="#707070" clip-path="url(#c20)"/>
<path d="M95 251.82 L96.04 252.01 L97.08 252.05 L98.12 251.49 L99.16 251.62 L100.19 251.51 L101.23 251.35 L102.27 251.6 L103.18 249.71 L104.09 248.16 L105 246.42 L105.91 248.02 L106.82 248.15 L107.73 248.07 L108.64 246.49 L109.55 245.33 L110.45 246.87 L111.36 246.21 L112.27 247.46 L113.18 246.79 L114.09 246.24 L115 244.54 L116.09 242.25 L117.18 238.81 L118.36 235.25 L119.55 229.76 L120.73 224.57 L121.91 219.47 L123 215.92 L124.09 214.29 L125.18 210.91 L126.27 209.12 L127.18 208.02 L128.09 208.73 L129 203.65 L129.91 201.21 L130.82 204.33 L131.73 206.66 L132.91 212.62 L134.09 214.33 L135.27 216.15 L136.45 216.7 L137.36 220.7 L138.27 226.16 L139.18 229.13 L140.09 233.32 L141 236.42 L141.91 238.33 L142.82 237.37 L143.73 233.18 L144.82 236.68 L145.91 235.88 L147 236.92 L148.09 235.49 L149.27 235.77 L150.45 237.75 L151.36 240.58 L152.27 243.78 L153.18 244.63 L154.09 245.79 L155 247.54 L155.91 247.43 L156.82 247.22 L157.73 245.98 L158.91 247.82 L160.09 250.04 L161.18 250.19 L162.27 251.81 L163.18 251.51 L164.09 252.05 L165 251.43 L165.91 252.05 L166.82 251.85 L167.73 251.31 L168.64 250.81 L169.55 251.2 L170.45 251.28 L171.36 251.35 L172.27 251.93 L173.36 252.05 L174.45 251.6 L175.55 251.82 L176.64 251.38 L177.73 251.34 L179 250.43 L180.45 252.05 L181.36 251.73 L182.27 251.63 L183.18 251.64 L184.09 252.05 L185 251.98" fill="none" stroke="#000" stroke-width="1.65" stroke-linejoin="round" clip-path="url(#c20)"/>
<rect x="95.6" y="175.3" width="88.6" height="77.8" fill="none" stroke="#111" stroke-width="1.2"/>
<line x1="92.4" y1="251.3" x2="95.6" y2="251.3" stroke="#000" stroke-width="1.15"/>
<text x="90.6" y="254.9" font-size="8.8" text-anchor="end">0</text>
<line x1="92.4" y1="236.66" x2="95.6" y2="236.66" stroke="#000" stroke-width="1.15"/>
<text x="90.6" y="240.26" font-size="8.8" text-anchor="end">20</text>
<line x1="92.4" y1="222.02" x2="95.6" y2="222.02" stroke="#000" stroke-width="1.15"/>
<text x="90.6" y="225.62" font-size="8.8" text-anchor="end">40</text>
<line x1="92.4" y1="207.38" x2="95.6" y2="207.38" stroke="#000" stroke-width="1.15"/>
<text x="90.6" y="210.98" font-size="8.8" text-anchor="end">60</text>
<line x1="92.4" y1="192.74" x2="95.6" y2="192.74" stroke="#000" stroke-width="1.15"/>
<text x="90.6" y="196.34" font-size="8.8" text-anchor="end">80</text>
<line x1="92.4" y1="178.1" x2="95.6" y2="178.1" stroke="#000" stroke-width="1.15"/>
<text x="90.6" y="181.7" font-size="8.8" text-anchor="end">100</text>
<line x1="96.1" y1="253.1" x2="96.1" y2="256.5" stroke="#000" stroke-width="1.0"/>
<line x1="118.05" y1="253.1" x2="118.05" y2="256.5" stroke="#000" stroke-width="1.0"/>
<line x1="140" y1="253.1" x2="140" y2="256.5" stroke="#000" stroke-width="1.0"/>
<line x1="161.95" y1="253.1" x2="161.95" y2="256.5" stroke="#000" stroke-width="1.0"/>
<line x1="183.9" y1="253.1" x2="183.9" y2="256.5" stroke="#000" stroke-width="1.0"/>
<rect x="97.3" y="177.1" width="8.8" height="9.1" fill="#707070"/>
<rect x="98" y="189.8" width="7.6" height="8.1" fill="#fff" stroke="#000" stroke-width="1.4"/>
<text x="108.9" y="185.1" font-size="9.2">20.0</text>
<path d="M130.46 181.25H136.26M133.36 179.5V183M130.46 184.65H136.26" stroke="#222" stroke-width="0.7" fill="none"/>
<text x="139.82" y="185.1" font-size="9.2">1<tspan dx="-0.9">.</tspan>0<tspan font-size="8.4" stroke="none" dx="0.2" dy="-0.6">**</tspan></text>
<text x="108.79" y="197.1" font-size="9.2">36.0</text>
<path d="M130.46 193.25H136.26M133.36 191.5V195M130.46 196.65H136.26" stroke="#222" stroke-width="0.7" fill="none"/>
<text x="139.7" y="197.1" font-size="9.2">0.2<tspan font-size="8.4" stroke="none" dx="0.2" dy="-0.6">*</tspan><tspan dy="-2.2" font-size="6.5" stroke="none">,</tspan><tspan dy="2.2" font-size="8.4" stroke="none">**</tspan></text>
<path d="M196 253.1 V231.1 H197 V232.89 H198 V233.91 H199 V229.73 H200 V230.78 H201 V227.37 H202 V223.62 H203 V227.46 H204 V218.89 H205 V219.01 H206 V220.42 H207 V219.14 H208 V214.36 H209 V214.63 H210 V213.19 H211 V213.63 H212 V216.39 H213 V217.52 H214 V213.54 H215 V216.92 H216 V218 H217 V215.66 H218 V216.65 H219 V220.39 H220 V223.76 H221 V227.54 H222 V224.28 H223 V222.72 H224 V231.14 H225 V234.58 H226 V238.05 H227 V239.92 H228 V239.65 H229 V238.25 H230 V239.63 H231 V243.45 H232 V246.06 H233 V244.57 H234 V245.9 H235 V247.23 H236 V245.15 H237 V243.57 H238 V245.16 H239 V246.66 H240 V249.07 H241 V249.2 H242 V247.17 H243 V246.78 H244 V247.79 H245 V250.12 H246 V249.67 H247 V247.34 H248 V247.91 H249 V248.82 H250 V250.48 H251 V250.19 H252 V247.69 H253 V249.7 H254 V251.79 H255 V253.1Z" fill="#707070" clip-path="url(#c21)"/>
<path d="M196 239.08 L196.91 238.85 L197.82 240.01 L198.73 241.35 L199.64 240.31 L200.55 239.12 L201.45 241.02 L202.36 242.23 L203.27 240.82 L204.18 237.03 L205.09 234.6 L206 233.64 L206.91 230.37 L207.82 229.9 L208.73 229.53 L209.64 226.63 L210.55 224.33 L211.45 222.69 L212.36 220.64 L213.82 209.4 L215.09 216.6 L216 215.71 L216.91 215.32 L217.82 217.96 L218.73 219.85 L219.64 221.07 L220.55 221.94 L221.45 226.58 L222.36 230.63 L223.55 232.19 L224.73 234.34 L225.64 236.79 L226.55 238.08 L227.64 242.71 L228.73 245.93 L229.64 246.95 L230.55 247.94 L231.45 248.67 L232.36 249.11 L233.27 249.66 L234.18 250.26 L235.09 250.12 L236 249.56 L236.91 249.35 L237.82 249.55 L238.73 250.69 L239.64 251.93 L240.55 251.49 L241.45 251.85 L242.36 251.88 L243.27 251.8 L244.27 252.05 L245.26 251.81 L246.25 252.05 L247.25 251.7 L248.24 251.62 L249.23 252.05 L250.23 251.93 L251.22 251.62 L252.22 251.89 L253.21 251.93 L254.2 252.05 L255.2 251.66 L256.19 251.75 L257.18 252.05 L258.18 252.05 L259.17 251.7 L260.16 251.85 L261.16 251.86 L262.15 252.05 L263.15 252.05 L264.14 252.05 L265.13 252.05 L266.13 252 L267.12 252.05 L268.11 252.05 L269.11 252.05 L270.1 251.96 L271.1 252.05 L272.09 252.05 L273.08 252.05 L274.08 251.67 L275.07 252.05 L276.06 251.57 L277.06 252.05 L278.05 252.05 L279.04 251.98 L280.04 252.05 L281.03 252.04 L282.03 251.91 L283.02 252.05 L284.01 252.05 L285.01 252.05 L286 251.88" fill="none" stroke="#000" stroke-width="1.65" stroke-linejoin="round" clip-path="url(#c21)"/>
<rect x="196.7" y="175.3" width="88.6" height="77.8" fill="none" stroke="#111" stroke-width="1.2"/>
<line x1="194.3" y1="251.3" x2="196.7" y2="251.3" stroke="#000" stroke-width="1.0"/>
<line x1="194.3" y1="236.66" x2="196.7" y2="236.66" stroke="#000" stroke-width="1.0"/>
<line x1="194.3" y1="222.02" x2="196.7" y2="222.02" stroke="#000" stroke-width="1.0"/>
<line x1="194.3" y1="207.38" x2="196.7" y2="207.38" stroke="#000" stroke-width="1.0"/>
<line x1="194.3" y1="192.74" x2="196.7" y2="192.74" stroke="#000" stroke-width="1.0"/>
<line x1="194.3" y1="178.1" x2="196.7" y2="178.1" stroke="#000" stroke-width="1.0"/>
<line x1="197.2" y1="253.1" x2="197.2" y2="256.5" stroke="#000" stroke-width="1.0"/>
<line x1="219.15" y1="253.1" x2="219.15" y2="256.5" stroke="#000" stroke-width="1.0"/>
<line x1="241.1" y1="253.1" x2="241.1" y2="256.5" stroke="#000" stroke-width="1.0"/>
<line x1="263.05" y1="253.1" x2="263.05" y2="256.5" stroke="#000" stroke-width="1.0"/>
<line x1="285" y1="253.1" x2="285" y2="256.5" stroke="#000" stroke-width="1.0"/>
<rect x="199.1" y="177.1" width="8.8" height="9.1" fill="#707070"/>
<rect x="199.8" y="189.8" width="7.6" height="8.1" fill="#fff" stroke="#000" stroke-width="1.4"/>
<text x="217.06" y="185.1" font-size="9.2">9.1</text>
<path d="M233.65 181.25H239.45M236.55 179.5V183M233.65 184.65H239.45" stroke="#222" stroke-width="0.7" fill="none"/>
<text x="243.25" y="185.1" font-size="9.2">0.1<tspan font-size="8.4" stroke="none" dx="0.2" dy="-0.6">**</tspan></text>
<text x="212.82" y="197.1" font-size="9.2">10.0</text>
<path d="M233.65 193.25H239.45M236.55 191.5V195M233.65 196.65H239.45" stroke="#222" stroke-width="0.7" fill="none"/>
<text x="243.18" y="197.1" font-size="9.2">1<tspan dx="-0.9">.</tspan>0<tspan font-size="8.4" stroke="none" dx="0.2" dy="-0.6">**</tspan></text>
<path d="M297 253.1 V234.94 H298 V235.86 H299 V232.93 H300 V235.86 H301 V235.99 H302 V233.54 H303 V232.01 H304 V228.58 H305 V224.54 H306 V228.4 H307 V229.49 H308 V218.05 H309 V208.99 H310 V209.36 H311 V207.76 H312 V217.84 H313 V219.65 H314 V216.41 H315 V216.73 H316 V219.17 H317 V216.53 H318 V205.55 H319 V210.69 H320 V220.55 H321 V227.06 H322 V228.29 H323 V234.04 H324 V233.64 H325 V233.49 H326 V234.39 H327 V234.59 H328 V237.18 H329 V240.35 H330 V234.93 H331 V231.58 H332 V234.91 H333 V236.94 H334 V235.48 H335 V232.09 H336 V238.9 H337 V241.45 H338 V237.56 H339 V239.07 H340 V236.68 H341 V236.89 H342 V240.57 H343 V243.62 H344 V247.58 H345 V250.33 H346 V250.45 H347 V250.1 H348 V250.12 H349 V249.19 H350 V250.15 H351 V250.07 H352 V250.9 H353 V249.66 H354 V250.52 H355 V250.43 H356 V251.28 H357 V250.6 H358 V250.47 H359 V250.87 H360 V250.74 H361 V250.39 H362 V252.15 H363 V250.83 H364 V251.12 H365 V251.6 H366 V251.79 H367 V250.48 H368 V251.52 H369 V250.25 H370 V250.84 H371 V251.34 H372 V251.19 H373 V251.03 H374 V250.53 H375 V250.7 H376 V249.38 H377 V249.2 H378 V250.87 H379 V251.1 H380 V252.24 H381 V251.69 H382 V251.32 H383 V250.77 H384 V250.76 H385 V251.2 H386 V251.26 H387 V253.1Z" fill="#707070" clip-path="url(#c22)"/>
<path d="M297 245.6 L297.91 245.69 L298.82 244.99 L299.73 245.6 L300.64 244.72 L301.55 244.5 L302.45 242.8 L303.36 241.19 L304.27 240.04 L305.18 239.84 L306.09 238.1 L307.18 238.18 L308.27 235.09 L309.18 231.93 L310.09 227.93 L311.27 224.34 L312.45 223.22 L313.64 220.16 L314.82 219.21 L315.91 217.11 L317 214.47 L317.91 212.45 L318.82 209.2 L320.27 215.86 L321.18 221.2 L322.09 222.68 L323.18 227.41 L324.27 229.4 L325.18 231.91 L326.09 232.58 L327 234.16 L327.91 236.89 L328.82 239.69 L329.73 243.4 L330.64 246.53 L331.55 247.53 L332.45 249.31 L333.36 249.95 L334.27 250.34 L335.18 251.1 L336.09 251.24 L337 251.6 L337.91 251.72 L338.82 251.23 L339.73 251.5 L340.64 251.44 L341.55 252.05 L342.56 252.05 L343.57 251.87 L344.58 251.92 L345.59 252.05 L346.6 252.05 L347.61 251.8 L348.62 252.05 L349.63 251.89 L350.64 252.05 L351.65 251.76 L352.66 251.71 L353.67 252.05 L354.68 252.05 L355.69 252.05 L356.7 251.66 L357.71 251.67 L358.72 251.77 L359.73 251.81 L360.74 251.9 L361.75 251.96 L362.76 251.69 L363.77 251.92 L364.78 252.05 L365.79 251.82 L366.8 252.05 L367.81 252.05 L368.82 252.05 L369.83 251.89 L370.84 252.05 L371.85 252.05 L372.86 251.98 L373.87 251.7 L374.88 252.05 L375.89 252.05 L376.9 251.95 L377.91 251.76 L378.92 252.05 L379.93 252.05 L380.94 251.77 L381.95 251.94 L382.96 251.83 L383.97 252.05 L384.98 251.92 L385.99 252.05 L387 252.05" fill="none" stroke="#000" stroke-width="1.65" stroke-linejoin="round" clip-path="url(#c22)"/>
<rect x="297.7" y="175.3" width="88.6" height="77.8" fill="none" stroke="#111" stroke-width="1.2"/>
<line x1="295.3" y1="251.3" x2="297.7" y2="251.3" stroke="#000" stroke-width="1.0"/>
<line x1="295.3" y1="236.66" x2="297.7" y2="236.66" stroke="#000" stroke-width="1.0"/>
<line x1="295.3" y1="222.02" x2="297.7" y2="222.02" stroke="#000" stroke-width="1.0"/>
<line x1="295.3" y1="207.38" x2="297.7" y2="207.38" stroke="#000" stroke-width="1.0"/>
<line x1="295.3" y1="192.74" x2="297.7" y2="192.74" stroke="#000" stroke-width="1.0"/>
<line x1="295.3" y1="178.1" x2="297.7" y2="178.1" stroke="#000" stroke-width="1.0"/>
<line x1="298.2" y1="253.1" x2="298.2" y2="256.5" stroke="#000" stroke-width="1.0"/>
<line x1="320.15" y1="253.1" x2="320.15" y2="256.5" stroke="#000" stroke-width="1.0"/>
<line x1="342.1" y1="253.1" x2="342.1" y2="256.5" stroke="#000" stroke-width="1.0"/>
<line x1="364.05" y1="253.1" x2="364.05" y2="256.5" stroke="#000" stroke-width="1.0"/>
<line x1="386" y1="253.1" x2="386" y2="256.5" stroke="#000" stroke-width="1.0"/>
<rect x="299.7" y="177.1" width="8.8" height="9.1" fill="#707070"/>
<rect x="300.4" y="189.8" width="7.6" height="8.1" fill="#fff" stroke="#000" stroke-width="1.4"/>
<text x="310.79" y="185.1" font-size="9.2">30.0</text>
<path d="M332.46 181.25H338.26M335.36 179.5V183M332.46 184.65H338.26" stroke="#222" stroke-width="0.7" fill="none"/>
<text x="341.82" y="185.1" font-size="9.2">1<tspan dx="-0.9">.</tspan>0<tspan font-size="8.4" stroke="none" dx="0.2" dy="-0.6">**</tspan></text>
<text x="311.09" y="197.1" font-size="9.2">19.0</text>
<path d="M332.46 193.25H338.26M335.36 191.5V195M332.46 196.65H338.26" stroke="#222" stroke-width="0.7" fill="none"/>
<text x="341.7" y="197.1" font-size="9.2">0.5<tspan font-size="8.4" stroke="none" dx="0.2" dy="-0.6">**</tspan></text>
<path d="M413 253.1 V252.52 H414 V249.09 H415 V245.39 H416 V246.23 H417 V248.52 H418 V246.28 H419 V243.07 H420 V242 H421 V239.56 H422 V239.78 H423 V240.58 H424 V239.57 H425 V237.46 H426 V233.5 H427 V219.13 H428 V209.13 H429 V210.81 H430 V214.18 H431 V210.36 H432 V208.02 H433 V202.73 H434 V204.83 H435 V201.91 H436 V205.75 H437 V209.53 H438 V208.12 H439 V218.75 H440 V223.71 H441 V230.4 H442 V230.9 H443 V233.01 H444 V236.79 H445 V240.46 H446 V239.6 H447 V238.91 H448 V240 H449 V243.02 H450 V244.54 H451 V244.15 H452 V243.71 H453 V242.48 H454 V246.29 H455 V245.95 H456 V247.05 H457 V248.06 H458 V249.74 H459 V249.67 H460 V250.44 H461 V250.67 H462 V250.47 H463 V250.86 H464 V250.19 H465 V250.29 H466 V250.88 H467 V249.86 H468 V249.61 H469 V250.25 H470 V248.75 H471 V248.53 H472 V248.94 H473 V248.26 H474 V247.96 H475 V246.42 H476 V249.81 H477 V250.05 H478 V251.6 H479 V250.56 H480 V249.47 H481 V249.12 H482 V250.21 H483 V251.07 H484 V253.1Z" fill="#707070" clip-path="url(#c23)"/>
<path d="M398 251.7 L399.01 251.81 L400.02 251.93 L401.03 252.03 L402.04 251.86 L403.05 251.73 L404.06 251.64 L405.07 251.84 L406.08 251.95 L407.09 252.05 L408.1 252.05 L409.11 252.05 L410.12 252.05 L411.13 252.05 L412.14 252.05 L413.15 252.05 L414.16 251.62 L415.17 252.05 L416.18 252.05 L417.09 251.7 L418 251.82 L418.91 252.04 L419.82 251.53 L420.73 251.57 L421.64 250.8 L422.55 250.38 L423.45 250.46 L424.36 249.12 L425.27 248.35 L426.18 248.02 L427.09 246.82 L428 244.45 L428.91 243.52 L429.82 241.2 L431 237.53 L432.18 233.04 L433.09 227.44 L434 221.64 L434.91 217.47 L435.82 212.93 L436.91 211.78 L438 212.68 L438.91 210.23 L439.82 207.47 L441.27 214.41 L442.55 208.83 L443.45 211.5 L444.36 216.08 L445.55 216.55 L446.73 218.67 L447.82 220.7 L448.91 221.47 L449.82 224.85 L450.73 225.65 L451.64 230.11 L452.55 233.49 L453.45 234.36 L454.36 237.29 L455.27 238.76 L456.18 241.02 L457.09 243.27 L458 244.24 L458.91 245.69 L459.82 246.93 L460.73 247.33 L461.91 247.8 L463.09 246.83 L464.18 247.59 L465.27 249.97 L466.18 249.93 L467.09 250.15 L468 251.32 L468.91 251.13 L469.82 251.5 L470.73 251.12 L471.77 251.76 L472.81 251.21 L473.84 251.44 L474.88 251.64 L475.92 251.42 L476.96 251.98 L478 251.74 L478.91 251.52 L479.82 251.58 L480.73 251.04 L481.64 251.18 L482.55 250.64 L483.45 251.41 L484.36 251.67 L485.27 252.05 L486.18 252.05 L487.09 251.61 L488 252.05" fill="none" stroke="#000" stroke-width="1.65" stroke-linejoin="round" clip-path="url(#c23)"/>
<rect x="398.5" y="175.3" width="88.6" height="77.8" fill="none" stroke="#111" stroke-width="1.2"/>
<line x1="396.1" y1="251.3" x2="398.5" y2="251.3" stroke="#000" stroke-width="1.0"/>
<line x1="396.1" y1="236.66" x2="398.5" y2="236.66" stroke="#000" stroke-width="1.0"/>
<line x1="396.1" y1="222.02" x2="398.5" y2="222.02" stroke="#000" stroke-width="1.0"/>
<line x1="396.1" y1="207.38" x2="398.5" y2="207.38" stroke="#000" stroke-width="1.0"/>
<line x1="396.1" y1="192.74" x2="398.5" y2="192.74" stroke="#000" stroke-width="1.0"/>
<line x1="396.1" y1="178.1" x2="398.5" y2="178.1" stroke="#000" stroke-width="1.0"/>
<line x1="399" y1="253.1" x2="399" y2="256.5" stroke="#000" stroke-width="1.0"/>
<line x1="420.95" y1="253.1" x2="420.95" y2="256.5" stroke="#000" stroke-width="1.0"/>
<line x1="442.9" y1="253.1" x2="442.9" y2="256.5" stroke="#000" stroke-width="1.0"/>
<line x1="464.85" y1="253.1" x2="464.85" y2="256.5" stroke="#000" stroke-width="1.0"/>
<line x1="486.8" y1="253.1" x2="486.8" y2="256.5" stroke="#000" stroke-width="1.0"/>
<rect x="400.2" y="177.1" width="8.8" height="9.1" fill="#707070"/>
<rect x="400.9" y="189.8" width="7.6" height="8.1" fill="#fff" stroke="#000" stroke-width="1.4"/>
<text x="411.26" y="185.1" font-size="9.2">83.0</text>
<path d="M433.1 181.25H438.9M436 179.5V183M433.1 184.65H438.9" stroke="#222" stroke-width="0.7" fill="none"/>
<text x="442.81" y="185.1" font-size="9.2">2.5<tspan font-size="8.4" stroke="none" dx="0.2" dy="-0.6">**</tspan></text>
<text x="411.55" y="197.1" font-size="9.2">165.0</text>
<path d="M438.01 193.25H443.81M440.91 191.5V195M438.01 196.65H443.81" stroke="#222" stroke-width="0.7" fill="none"/>
<text x="447.55" y="197.1" font-size="9.2">10.0<tspan font-size="8.4" stroke="none" dx="0.2" dy="-0.6">*</tspan></text>
<path d="M95 339.7 V334.53 H96 V335.16 H97 V335.55 H98 V336.08 H99 V336.29 H100 V336.24 H101 V336.24 H102 V335.95 H103 V334.28 H104 V332.54 H105 V331.6 H106 V331.19 H107 V330.85 H108 V328.76 H109 V326.18 H110 V323.24 H111 V319.02 H112 V314.5 H113 V309.21 H114 V303.93 H115 V297.1 H116 V289.25 H117 V284.62 H118 V280.51 H119 V279.77 H120 V284.38 H121 V293.13 H122 V303.14 H123 V311.55 H124 V318.35 H125 V324.08 H126 V327.79 H127 V330.47 H128 V333.22 H129 V334.49 H130 V335.7 H131 V336.78 H132 V337.21 H133 V337.69 H134 V338.03 H135 V338.27 H136 V338.43 H137 V338.4 H138 V338.54 H139 V339.7Z" fill="#707070" clip-path="url(#c30)"/>
<path d="M95 338.64 L96.01 338.65 L97.02 338.61 L98.03 338.55 L99.04 338.62 L100.05 338.62 L101.06 338.58 L102.07 338.6 L103.08 338.56 L104.09 338.59 L105 338.39 L105.91 338.15 L106.82 338.01 L107.73 337.82 L108.64 337.76 L109.55 336.85 L110.45 336.01 L111.36 335.16 L112.27 334.34 L113.18 332.54 L114.09 330.66 L115 328.78 L115.91 325.76 L116.82 322.26 L117.73 318.92 L118.64 313.53 L119.55 307.92 L120.45 302.38 L121.36 296.87 L122.27 293.37 L123.18 289.74 L124.45 288.17 L125.55 289.89 L126.82 287.39 L128.09 295.21 L129.55 304.65 L130.45 309.9 L131.36 315.07 L132.27 319.24 L133.18 323.53 L134.09 327.3 L135 330.72 L136.09 333.56 L137.18 336.2 L138.36 337.28 L139.55 338.15 L140.45 338.03 L141.36 337.92 L142.27 337.63 L143.18 337.45 L144.09 337.96 L145 338.53 L146 338.55 L147 338.61 L148 338.54 L149 338.57 L150 338.54 L151 338.6 L152 338.64 L153 338.6 L154 338.53 L155 338.62 L156 338.65 L157 338.6 L158 338.52 L159 338.63 L160 338.64 L161 338.56 L162 338.53 L163 338.53 L164 338.59 L165 338.64 L166 338.6 L167 338.65 L168 338.54 L169 338.55 L170 338.62 L171 338.6 L172 338.57 L173 338.61 L174 338.56 L175 338.51 L176 338.57 L177 338.51 L178 338.6 L179 338.56 L180 338.58 L181 338.6 L182 338.54 L183 338.58 L184 338.51 L185 338.65" fill="none" stroke="#000" stroke-width="1.65" stroke-linejoin="round" clip-path="url(#c30)"/>
<rect x="95.6" y="261.6" width="88.6" height="78.1" fill="none" stroke="#111" stroke-width="1.2"/>
<line x1="92.4" y1="337.3" x2="95.6" y2="337.3" stroke="#000" stroke-width="1.15"/>
<text x="90.6" y="340.9" font-size="8.8" text-anchor="end">0</text>
<line x1="92.4" y1="322.66" x2="95.6" y2="322.66" stroke="#000" stroke-width="1.15"/>
<text x="90.6" y="326.26" font-size="8.8" text-anchor="end">20</text>
<line x1="92.4" y1="308.02" x2="95.6" y2="308.02" stroke="#000" stroke-width="1.15"/>
<text x="90.6" y="311.62" font-size="8.8" text-anchor="end">40</text>
<line x1="92.4" y1="293.38" x2="95.6" y2="293.38" stroke="#000" stroke-width="1.15"/>
<text x="90.6" y="296.98" font-size="8.8" text-anchor="end">60</text>
<line x1="92.4" y1="278.74" x2="95.6" y2="278.74" stroke="#000" stroke-width="1.15"/>
<text x="90.6" y="282.34" font-size="8.8" text-anchor="end">80</text>
<line x1="92.4" y1="264.1" x2="95.6" y2="264.1" stroke="#000" stroke-width="1.15"/>
<text x="90.6" y="267.7" font-size="8.8" text-anchor="end">100</text>
<line x1="96.1" y1="339.7" x2="96.1" y2="343.1" stroke="#000" stroke-width="1.0"/>
<text x="92.5" y="351.3" font-size="9">10<tspan font-size="6.3" dy="-3.5" dx="0.1">0</tspan></text>
<line x1="118.05" y1="339.7" x2="118.05" y2="343.1" stroke="#000" stroke-width="1.0"/>
<text x="114.02" y="351.3" font-size="9">10<tspan font-size="6.3" dy="-3.5" dx="0.1">1</tspan></text>
<line x1="140" y1="339.7" x2="140" y2="343.1" stroke="#000" stroke-width="1.0"/>
<text x="135.54" y="351.3" font-size="9">10<tspan font-size="6.3" dy="-3.5" dx="0.1">2</tspan></text>
<line x1="161.95" y1="339.7" x2="161.95" y2="343.1" stroke="#000" stroke-width="1.0"/>
<text x="157.06" y="351.3" font-size="9">10<tspan font-size="6.3" dy="-3.5" dx="0.1">3</tspan></text>
<line x1="183.9" y1="339.7" x2="183.9" y2="343.1" stroke="#000" stroke-width="1.0"/>
<text x="178.58" y="351.3" font-size="9">10<tspan font-size="6.3" dy="-3.5" dx="0.1">4</tspan></text>
<rect x="97.3" y="264" width="8.8" height="9.1" fill="#707070"/>
<rect x="98" y="276.7" width="7.6" height="8.1" fill="#fff" stroke="#000" stroke-width="1.4"/>
<text x="108.55" y="271.7" font-size="9.2">1<tspan dx="-0.6">1</tspan><tspan dx="-0.9">.</tspan>5</text>
<path d="M130.46 267.85H136.26M133.36 266.1V269.6M130.46 271.25H136.26" stroke="#222" stroke-width="0.7" fill="none"/>
<text x="139.52" y="271.7" font-size="9.2">0.3</text>
<text x="107.81" y="283.9" font-size="9.2">23.0</text>
<path d="M130.46 280.05H136.26M133.36 278.3V281.8M130.46 283.45H136.26" stroke="#222" stroke-width="0.7" fill="none"/>
<text x="139.52" y="283.9" font-size="9.2">0.2<tspan font-size="8.4" stroke="none" dx="0.2" dy="-0.6">*</tspan></text>
<path d="M196 339.7 V307.66 H197 V305.4 H198 V303.35 H199 V301.65 H200 V301.23 H201 V299.86 H202 V298.34 H203 V296.41 H204 V296.46 H205 V294.9 H206 V293.76 H207 V292.57 H208 V291.64 H209 V294.94 H210 V294.24 H211 V296.33 H212 V298.76 H213 V301.65 H214 V304.18 H215 V309.15 H216 V315.99 H217 V321.41 H218 V325.55 H219 V329.72 H220 V331.73 H221 V334.14 H222 V335.58 H223 V337.24 H224 V338.46 H225 V338.35 H226 V339.7Z" fill="#707070" clip-path="url(#c31)"/>
<path d="M196 311.46 L196.91 312.46 L197.82 311.81 L198.73 312.86 L199.64 311.15 L200.55 310.94 L201.45 309.74 L202.36 309.38 L203.27 307.51 L204.18 307.2 L205.09 305.2 L206 303.99 L207.18 303.12 L208.36 301.83 L209.27 299.52 L210.18 297.74 L211.09 300.48 L212 303.41 L213.27 300.44 L214.55 305.86 L216 311.98 L216.91 317.28 L217.82 322.4 L218.73 326.59 L219.64 329.68 L220.55 331.71 L221.45 333.32 L222.36 335.46 L223.27 336.72 L224.18 337.78 L225.09 338.12 L226 338.32 L226.91 338.33 L227.82 338.53 L228.82 338.58 L229.82 338.65 L230.83 338.48 L231.83 338.64 L232.83 338.61 L233.84 338.57 L234.84 338.61 L235.84 338.65 L236.85 338.49 L237.85 338.65 L238.85 338.54 L239.86 338.65 L240.86 338.65 L241.86 338.48 L242.87 338.65 L243.87 338.65 L244.87 338.52 L245.87 338.43 L246.88 338.46 L247.88 338.65 L248.88 338.43 L249.89 338.65 L250.89 338.47 L251.89 338.65 L252.9 338.46 L253.9 338.48 L254.9 338.64 L255.91 338.45 L256.91 338.53 L257.91 338.65 L258.92 338.65 L259.92 338.65 L260.92 338.65 L261.92 338.44 L262.93 338.5 L263.93 338.65 L264.93 338.64 L265.94 338.44 L266.94 338.58 L267.94 338.5 L268.95 338.56 L269.95 338.46 L270.95 338.43 L271.96 338.65 L272.96 338.52 L273.96 338.65 L274.97 338.46 L275.97 338.58 L276.97 338.47 L277.97 338.56 L278.98 338.48 L279.98 338.64 L280.98 338.47 L281.99 338.65 L282.99 338.58 L283.99 338.46 L285 338.54 L286 338.58" fill="none" stroke="#000" stroke-width="1.65" stroke-linejoin="round" clip-path="url(#c31)"/>
<rect x="196.7" y="261.6" width="88.6" height="78.1" fill="none" stroke="#111" stroke-width="1.2"/>
<line x1="194.3" y1="337.3" x2="196.7" y2="337.3" stroke="#000" stroke-width="1.0"/>
<line x1="194.3" y1="322.66" x2="196.7" y2="322.66" stroke="#000" stroke-width="1.0"/>
<line x1="194.3" y1="308.02" x2="196.7" y2="308.02" stroke="#000" stroke-width="1.0"/>
<line x1="194.3" y1="293.38" x2="196.7" y2="293.38" stroke="#000" stroke-width="1.0"/>
<line x1="194.3" y1="278.74" x2="196.7" y2="278.74" stroke="#000" stroke-width="1.0"/>
<line x1="194.3" y1="264.1" x2="196.7" y2="264.1" stroke="#000" stroke-width="1.0"/>
<line x1="197.2" y1="339.7" x2="197.2" y2="343.1" stroke="#000" stroke-width="1.0"/>
<text x="192.7" y="351.3" font-size="9">10<tspan font-size="6.3" dy="-3.5" dx="0.1">0</tspan></text>
<line x1="219.15" y1="339.7" x2="219.15" y2="343.1" stroke="#000" stroke-width="1.0"/>
<text x="214.22" y="351.3" font-size="9">10<tspan font-size="6.3" dy="-3.5" dx="0.1">1</tspan></text>
<line x1="241.1" y1="339.7" x2="241.1" y2="343.1" stroke="#000" stroke-width="1.0"/>
<text x="235.74" y="351.3" font-size="9">10<tspan font-size="6.3" dy="-3.5" dx="0.1">2</tspan></text>
<line x1="263.05" y1="339.7" x2="263.05" y2="343.1" stroke="#000" stroke-width="1.0"/>
<text x="257.26" y="351.3" font-size="9">10<tspan font-size="6.3" dy="-3.5" dx="0.1">3</tspan></text>
<line x1="285" y1="339.7" x2="285" y2="343.1" stroke="#000" stroke-width="1.0"/>
<text x="278.78" y="351.3" font-size="9">10<tspan font-size="6.3" dy="-3.5" dx="0.1">4</tspan></text>
<rect x="199.1" y="264" width="8.8" height="9.1" fill="#707070"/>
<rect x="199.8" y="276.7" width="7.6" height="8.1" fill="#fff" stroke="#000" stroke-width="1.4"/>
<text x="210.79" y="271.7" font-size="9.2">4.0</text>
<path d="M227.83 267.85H233.63M230.73 266.1V269.6M227.83 271.25H233.63" stroke="#222" stroke-width="0.7" fill="none"/>
<text x="237.06" y="271.7" font-size="9.2">0.5</text>
<text x="210.58" y="283.9" font-size="9.2">5.0</text>
<path d="M227.83 280.05H233.63M230.73 278.3V281.8M227.83 283.45H233.63" stroke="#222" stroke-width="0.7" fill="none"/>
<text x="237.06" y="283.9" font-size="9.2">0.5</text>
<path d="M297 339.7 V311.37 H298 V309.57 H299 V308.49 H300 V305.69 H301 V302.49 H302 V299.81 H303 V297.1 H304 V293.82 H305 V292 H306 V290.2 H307 V288.92 H308 V288.47 H309 V286.99 H310 V287.83 H311 V290.16 H312 V293.7 H313 V297.78 H314 V303.78 H315 V309.5 H316 V315.59 H317 V321.56 H318 V326.34 H319 V330.41 H320 V332.82 H321 V335.12 H322 V336.07 H323 V336.61 H324 V337.07 H325 V337.31 H326 V337.66 H327 V337.84 H328 V338.05 H329 V338.26 H330 V338.3 H331 V338.38 H332 V338.5 H333 V338.68 H334 V339.7Z" fill="#707070" clip-path="url(#c32)"/>
<path d="M297 321.69 L297.91 322.26 L298.82 322.64 L299.73 323.19 L300.64 321.17 L301.55 318.07 L302.45 315.34 L303.36 313.22 L304.27 311.44 L305.18 308.63 L306.09 306.13 L307 304.48 L307.91 301.63 L308.91 297.3 L309.91 292.97 L310.64 278.15 L311.18 289.93 L311.91 286.58 L313.09 285.62 L314.27 284.8 L315.18 285.24 L316.09 284.86 L317 288.08 L317.91 291.37 L318.82 295.74 L319.73 300.59 L320.64 305.67 L321.55 309.88 L322.45 315.25 L323.36 320.37 L324.27 324.77 L325.18 329.27 L326.36 331.33 L327.55 333.47 L328.58 334.39 L329.61 335.44 L330.64 336.32 L331.55 336.49 L332.45 337.1 L333.36 337.4 L334.27 337.86 L335.33 337.89 L336.39 338.05 L337.45 338.17 L338.52 338.3 L339.58 338.31 L340.64 338.49 L341.64 338.6 L342.64 338.44 L343.65 338.48 L344.65 338.65 L345.65 338.51 L346.66 338.53 L347.66 338.5 L348.66 338.65 L349.66 338.46 L350.67 338.62 L351.67 338.65 L352.67 338.49 L353.68 338.56 L354.68 338.65 L355.68 338.62 L356.69 338.54 L357.69 338.44 L358.69 338.56 L359.7 338.54 L360.7 338.65 L361.7 338.52 L362.71 338.55 L363.71 338.63 L364.71 338.65 L365.71 338.54 L366.72 338.55 L367.72 338.61 L368.72 338.65 L369.73 338.49 L370.77 338.63 L371.81 338.44 L372.84 338.23 L373.88 338.22 L374.92 338.01 L375.96 337.82 L377 337.94 L378 337.85 L379 337.94 L380 337.96 L381 338.13 L382 338.12 L383 337.92 L384 338.14 L385 338.13 L386 338.17 L387 338.33" fill="none" stroke="#000" stroke-width="1.65" stroke-linejoin="round" clip-path="url(#c32)"/>
<rect x="297.7" y="261.6" width="88.6" height="78.1" fill="none" stroke="#111" stroke-width="1.2"/>
<line x1="295.3" y1="337.3" x2="297.7" y2="337.3" stroke="#000" stroke-width="1.0"/>
<line x1="295.3" y1="322.66" x2="297.7" y2="322.66" stroke="#000" stroke-width="1.0"/>
<line x1="295.3" y1="308.02" x2="297.7" y2="308.02" stroke="#000" stroke-width="1.0"/>
<line x1="295.3" y1="293.38" x2="297.7" y2="293.38" stroke="#000" stroke-width="1.0"/>
<line x1="295.3" y1="278.74" x2="297.7" y2="278.74" stroke="#000" stroke-width="1.0"/>
<line x1="295.3" y1="264.1" x2="297.7" y2="264.1" stroke="#000" stroke-width="1.0"/>
<line x1="298.2" y1="339.7" x2="298.2" y2="343.1" stroke="#000" stroke-width="1.0"/>
<text x="294.3" y="351.3" font-size="9">10<tspan font-size="6.3" dy="-3.5" dx="0.1">0</tspan></text>
<line x1="320.15" y1="339.7" x2="320.15" y2="343.1" stroke="#000" stroke-width="1.0"/>
<text x="315.82" y="351.3" font-size="9">10<tspan font-size="6.3" dy="-3.5" dx="0.1">1</tspan></text>
<line x1="342.1" y1="339.7" x2="342.1" y2="343.1" stroke="#000" stroke-width="1.0"/>
<text x="337.34" y="351.3" font-size="9">10<tspan font-size="6.3" dy="-3.5" dx="0.1">2</tspan></text>
<line x1="364.05" y1="339.7" x2="364.05" y2="343.1" stroke="#000" stroke-width="1.0"/>
<text x="358.86" y="351.3" font-size="9">10<tspan font-size="6.3" dy="-3.5" dx="0.1">3</tspan></text>
<line x1="386" y1="339.7" x2="386" y2="343.1" stroke="#000" stroke-width="1.0"/>
<text x="380.38" y="351.3" font-size="9">10<tspan font-size="6.3" dy="-3.5" dx="0.1">4</tspan></text>
<rect x="299.7" y="264" width="8.8" height="9.1" fill="#707070"/>
<rect x="300.4" y="276.7" width="7.6" height="8.1" fill="#fff" stroke="#000" stroke-width="1.4"/>
<text x="312.06" y="271.7" font-size="9.2">3.5</text>
<path d="M329.19 267.85H334.99M332.09 266.1V269.6M329.19 271.25H334.99" stroke="#222" stroke-width="0.7" fill="none"/>
<text x="338.43" y="271.7" font-size="9.2">0.5</text>
<text x="312.1" y="283.9" font-size="9.2">6.0</text>
<path d="M329.19 280.05H334.99M332.09 278.3V281.8M329.19 283.45H334.99" stroke="#222" stroke-width="0.7" fill="none"/>
<text x="338.43" y="283.9" font-size="9.2">0.5</text>
<path d="M413 339.7 V338.51 H414 V338.06 H415 V337.42 H416 V336.6 H417 V334.85 H418 V333.18 H419 V330.33 H420 V326.27 H421 V322.24 H422 V315.42 H423 V307.92 H424 V298.96 H425 V290.5 H426 V282.59 H427 V275.74 H428 V269.74 H429 V264.8 H430 V266.5 H431 V272.89 H432 V280.61 H433 V288.12 H434 V296.44 H435 V306.86 H436 V316.72 H437 V322.92 H438 V328.22 H439 V331.02 H440 V333.85 H441 V335.09 H442 V336.26 H443 V337.12 H444 V337.43 H445 V337.68 H446 V338.08 H447 V338.26 H448 V338.27 H449 V338.33 H450 V338.41 H451 V338.52 H452 V338.57 H453 V339.7Z" fill="#707070" clip-path="url(#c33)"/>
<path d="M398 338.51 L399.01 338.64 L400.02 338.52 L401.03 338.6 L402.04 338.53 L403.05 338.65 L404.06 338.59 L405.07 338.63 L406.08 338.58 L407.09 338.61 L408.1 338.61 L409.11 338.55 L410.12 338.54 L411.13 338.63 L412.14 338.53 L413.15 338.65 L414.16 338.54 L415.17 338.52 L416.18 338.52 L417.09 338.35 L418 338.11 L418.91 337.75 L419.82 337.52 L420.73 336.41 L421.64 335.52 L422.55 334.44 L423.45 333.86 L424.36 333.38 L425.27 333.09 L426.18 332.46 L427.09 330.86 L428 328.88 L428.91 327.03 L430 322.62 L431.09 317.94 L432 314.89 L432.91 311.47 L433.82 309.19 L434.73 306.11 L435.64 308.24 L436.55 309.65 L437.45 312.31 L438.36 314.68 L439.27 315.25 L440.18 315.96 L441.09 317.06 L442 318.11 L442.91 316.06 L443.82 314.43 L445 310.97 L446.18 308.02 L447.09 305.45 L448 302.54 L449.18 299.51 L450.36 295.99 L451.27 298.69 L452.18 300.54 L453.09 306.47 L454 311.97 L454.91 317.82 L455.82 323.5 L456.73 327.05 L457.64 330.72 L458.73 333.37 L459.82 335.85 L460.73 336.72 L461.64 337.36 L462.55 338.22 L463.45 338.35 L464.36 338.38 L465.27 338.44 L466.18 338.44 L467.09 338.53 L468.09 338.55 L469.08 338.64 L470.08 338.64 L471.07 338.54 L472.07 338.65 L473.06 338.51 L474.06 338.6 L475.06 338.65 L476.05 338.56 L477.05 338.65 L478.04 338.61 L479.04 338.51 L480.03 338.56 L481.03 338.57 L482.03 338.54 L483.02 338.62 L484.02 338.53 L485.01 338.63 L486.01 338.55 L487 338.52 L488 338.59" fill="none" stroke="#000" stroke-width="1.65" stroke-linejoin="round" clip-path="url(#c33)"/>
<rect x="398.5" y="261.6" width="88.6" height="78.1" fill="none" stroke="#111" stroke-width="1.2"/>
<line x1="396.1" y1="337.3" x2="398.5" y2="337.3" stroke="#000" stroke-width="1.0"/>
<line x1="396.1" y1="322.66" x2="398.5" y2="322.66" stroke="#000" stroke-width="1.0"/>
<line x1="396.1" y1="308.02" x2="398.5" y2="308.02" stroke="#000" stroke-width="1.0"/>
<line x1="396.1" y1="293.38" x2="398.5" y2="293.38" stroke="#000" stroke-width="1.0"/>
<line x1="396.1" y1="278.74" x2="398.5" y2="278.74" stroke="#000" stroke-width="1.0"/>
<line x1="396.1" y1="264.1" x2="398.5" y2="264.1" stroke="#000" stroke-width="1.0"/>
<line x1="399" y1="339.7" x2="399" y2="343.1" stroke="#000" stroke-width="1.0"/>
<text x="395.3" y="351.3" font-size="9">10<tspan font-size="6.3" dy="-3.5" dx="0.1">0</tspan></text>
<line x1="420.95" y1="339.7" x2="420.95" y2="343.1" stroke="#000" stroke-width="1.0"/>
<text x="416.82" y="351.3" font-size="9">10<tspan font-size="6.3" dy="-3.5" dx="0.1">1</tspan></text>
<line x1="442.9" y1="339.7" x2="442.9" y2="343.1" stroke="#000" stroke-width="1.0"/>
<text x="438.34" y="351.3" font-size="9">10<tspan font-size="6.3" dy="-3.5" dx="0.1">2</tspan></text>
<line x1="464.85" y1="339.7" x2="464.85" y2="343.1" stroke="#000" stroke-width="1.0"/>
<text x="459.86" y="351.3" font-size="9">10<tspan font-size="6.3" dy="-3.5" dx="0.1">3</tspan></text>
<line x1="486.8" y1="339.7" x2="486.8" y2="343.1" stroke="#000" stroke-width="1.0"/>
<text x="481.38" y="351.3" font-size="9">10<tspan font-size="6.3" dy="-3.5" dx="0.1">4</tspan></text>
<rect x="400.2" y="264" width="8.8" height="9.1" fill="#707070"/>
<rect x="400.9" y="276.7" width="7.6" height="8.1" fill="#fff" stroke="#000" stroke-width="1.4"/>
<text x="410.7" y="271.7" font-size="9.2">37<tspan dx="-1.3">.</tspan>0</text>
<path d="M432.55 267.85H438.35M435.45 266.1V269.6M432.55 271.25H438.35" stroke="#222" stroke-width="0.7" fill="none"/>
<text x="441.55" y="271.7" font-size="9.2">1<tspan dx="-0.9">.</tspan>0</text>
<text x="411.18" y="283.9" font-size="9.2">176.0</text>
<path d="M437.65 280.05H443.45M440.55 278.3V281.8M437.65 283.45H443.45" stroke="#222" stroke-width="0.7" fill="none"/>
<text x="447.06" y="283.9" font-size="9.2">0.5<tspan font-size="8.4" stroke="none" dx="0.2" dy="-0.6">*</tspan></text>
<text x="0.5" y="42.6" font-size="10.2">CD4</text>
<path d="M22.8 36.5H28M25.4 33.9V39.1" stroke="#333" stroke-width="0.62" fill="none"/>
<text x="28.6" y="42.6" font-size="10.1" textLength="27" lengthAdjust="spacingAndGlyphs">NK1.1</text>
<path d="M59 36.5H64.2M61.6 33.9V39.1" stroke="#222" stroke-width="0.7" fill="none"/>
<text x="0.5" y="129.4" font-size="10.2">CD4</text>
<path d="M22.8 123.3H28M25.4 120.7V125.9" stroke="#333" stroke-width="0.62" fill="none"/>
<text x="28.6" y="129.4" font-size="10.1" textLength="27" lengthAdjust="spacingAndGlyphs">NK1.1</text>
<path d="M57.6 122.6H61.6" stroke="#222" stroke-width="0.7" fill="none"/>
<text x="0.5" y="216.8" font-size="10.2">CD8</text>
<path d="M22.8 210.7H28M25.4 208.1V213.3" stroke="#333" stroke-width="0.62" fill="none"/>
<text x="28.6" y="216.8" font-size="10.1" textLength="27" lengthAdjust="spacingAndGlyphs">NK1.1</text>
<path d="M59 210.7H64.2M61.6 208.1V213.3" stroke="#222" stroke-width="0.7" fill="none"/>
<text x="0.5" y="304.8" font-size="10.2">CD8</text>
<path d="M22.8 298.7H28M25.4 296.1V301.3" stroke="#333" stroke-width="0.62" fill="none"/>
<text x="28.6" y="304.8" font-size="10.1" textLength="27" lengthAdjust="spacingAndGlyphs">NK1.1</text>
<path d="M57.6 298H61.6" stroke="#222" stroke-width="0.7" fill="none"/>
<path d="M76.8 355.6V308" stroke="#111" stroke-width="1.1" fill="none"/>
<path d="M76.8 303.5L79.7 309.2H73.9Z" fill="#000"/>
<path d="M76.3 355.4H115" stroke="#111" stroke-width="1.1" fill="none"/>
<path d="M120 355.4L114.2 352.7V358.1Z" fill="#000"/>
<path d="M196 355.4H237" stroke="#111" stroke-width="1.1" fill="none"/>
<path d="M242 355.4L236.2 352.7V358.1Z" fill="#000"/>
<path d="M297.2 355.4H339.3" stroke="#111" stroke-width="1.1" fill="none"/>
<path d="M344.3 355.4L338.5 352.7V358.1Z" fill="#000"/>
<path d="M397.5 355.4H438.6" stroke="#111" stroke-width="1.1" fill="none"/>
<path d="M443.6 355.4L437.8 352.7V358.1Z" fill="#000"/>
<text transform="translate(74.7 349.2) rotate(-90)" font-size="10.3">Events</text>
<text x="88.4" y="365.5" font-size="9.8">Fas</text>
<text x="203.8" y="365.5" font-size="9.8" textLength="26" lengthAdjust="spacing">Fas-L</text>
<text x="305" y="365.5" font-size="9.8" textLength="23" lengthAdjust="spacing">PD-1</text>
<text x="403.8" y="365.5" font-size="9.8" textLength="28.6" lengthAdjust="spacing">PD-L1</text>
<rect x="239.1" y="375.6" width="9.7" height="9.6" fill="#707070"/>
<text x="251.5" y="384.8" font-size="10.5">Control</text>
<rect x="301.4" y="376.3" width="9.0" height="8.2" fill="#fff" stroke="#000" stroke-width="1.5"/>
<text x="312.6" y="384.8" font-size="10.5">Day 7</text>
</svg>
</body></html>
